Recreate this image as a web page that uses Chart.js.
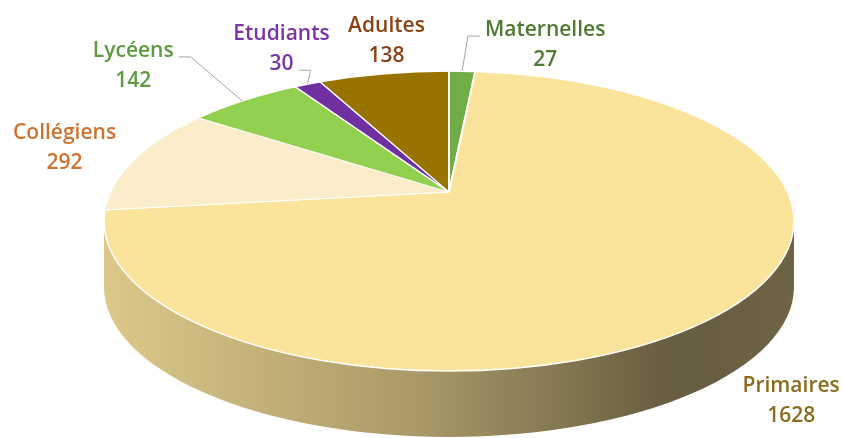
<!DOCTYPE html>
<html>
<head>
<meta charset="utf-8">
<script src="https://cdn.jsdelivr.net/npm/chart.js@4"></script>
<style>
  html, body { margin: 0; padding: 0; background: #fff; }
  #wrap { width: 842px; height: 438px; position: relative; }
</style>
</head>
<body>
<div id="wrap"><canvas id="pie"></canvas></div>
<script>
const categories = ["Maternelles", "Primaires", "Collégiens", "Lycéens", "Etudiants", "Adultes"];
const values = [27, 1628, 292, 142, 30, 138];
const sliceColors = ["#70ad47", "#fae39a", "#fbedc9", "#92d050", "#7030a0", "#997300"];
const labelColors = ["#4f7a32", "#8a6c1c", "#d0712e", "#5e9a3f", "#7a34a8", "#8a4314"];

// contour du dessus (ellipse), sommet décalé pour un effet de perspective
const PIE = { cx: 449, cy: 221, rx: 345, ry: 150, depth: 66, apexY: 192 };
const BACK = { rx: 350, ry: 121 };   // moitié arrière
const FRONT = { rx: 370, ry: 184 };  // moitié avant
// décalage des étiquettes par rapport au bord de la part
const labelShift = [[83, -26], [80, 16], [-71, -10], [-109, -35], [-26, -35], [4, -33]];
// ligne de repère : -1 = aucune, sinon ligne de texte d'attache
const leaderLine = [0, -1, -1, 0, 1, -1];
const FONT = "600 21px 'Open Sans'";
const LINE_H = 30;

function shade(hex, f) {
  const n = parseInt(hex.slice(1), 16);
  const r = Math.round(((n >> 16) & 255) * f);
  const g = Math.round(((n >> 8) & 255) * f);
  const b = Math.round((n & 255) * f);
  return `rgb(${r},${g},${b})`;
}

// angle de la part -> paramètre du point sur le contour elliptique
function rimParam(phi) {
  const half = Math.sin(phi) < 0 ? BACK : FRONT;
  const dx = half.rx * Math.cos(phi), dy = half.ry * Math.sin(phi);
  const oy = PIE.apexY - PIE.cy;
  const A = (dx / PIE.rx) ** 2 + (dy / PIE.ry) ** 2;
  const B = 2 * oy * dy / PIE.ry ** 2;
  const C = (oy / PIE.ry) ** 2 - 1;
  const s = (-B + Math.sqrt(B * B - 4 * A * C)) / (2 * A);
  const x = dx * s, y = oy + dy * s;
  let t = Math.atan2(y / PIE.ry, x / PIE.rx);
  while (t - phi > Math.PI) t -= 2 * Math.PI;
  while (phi - t > Math.PI) t += 2 * Math.PI;
  return t;
}

function rimPoint(t, withDepth) {
  const x = PIE.cx + PIE.rx * Math.cos(t);
  let y = PIE.cy + PIE.ry * Math.sin(t);
  if (withDepth && Math.sin(t) > 0) y += PIE.depth;
  return { x, y };
}

function clipHalf(ctx, W, H, back) {
  ctx.beginPath();
  if (back) ctx.rect(0, 0, W, PIE.apexY + 0.5);
  else ctx.rect(0, PIE.apexY - 0.5, W, H);
  ctx.clip();
  ctx.beginPath();
  ctx.ellipse(PIE.cx, PIE.cy, PIE.rx, PIE.ry, 0, 0, 2 * Math.PI);
  ctx.clip();
}

function applyHalf(ctx, arc, half) {
  const R = arc.outerRadius;
  ctx.translate(PIE.cx, PIE.apexY);
  ctx.scale(half.rx / R, half.ry / R);
  ctx.translate(-arc.x, -arc.y);
}

const pie3d = {
  id: "pie3d",
  beforeDatasetsDraw(chart) {
    const ctx = chart.ctx;
    const arcs = chart.getDatasetMeta(0).data;
    // flanc visible
    arcs.forEach((arc, i) => {
      const a = Math.max(rimParam(arc.startAngle), 0);
      const b = Math.min(rimParam(arc.endAngle), Math.PI);
      if (b <= a) return;
      const col = sliceColors[i];
      const grad = ctx.createLinearGradient(PIE.cx - PIE.rx, 0, PIE.cx + PIE.rx, 0);
      grad.addColorStop(0, shade(col, 0.88));
      grad.addColorStop(0.45, shade(col, 0.68));
      grad.addColorStop(0.82, shade(col, 0.41));
      grad.addColorStop(1, shade(col, 0.44));
      ctx.save();
      ctx.beginPath();
      ctx.ellipse(PIE.cx, PIE.cy, PIE.rx, PIE.ry, 0, a, b, false);
      const e = rimPoint(b, false);
      ctx.lineTo(e.x, e.y + PIE.depth);
      ctx.ellipse(PIE.cx, PIE.cy + PIE.depth, PIE.rx, PIE.ry, 0, b, a, true);
      ctx.closePath();
      ctx.fillStyle = grad;
      ctx.fill();
      ctx.restore();
    });
    // dessus : moitié arrière dessinée par Chart.js
    ctx.save();
    clipHalf(ctx, chart.width, chart.height, true);
    applyHalf(ctx, arcs[0], BACK);
  },
  afterDatasetsDraw(chart) {
    const ctx = chart.ctx;
    const arcs = chart.getDatasetMeta(0).data;
    ctx.restore();
    // moitié avant
    ctx.save();
    clipHalf(ctx, chart.width, chart.height, false);
    applyHalf(ctx, arcs[0], FRONT);
    arcs.forEach(arc => arc.draw(ctx));
    ctx.restore();
    ctx.save();
    ctx.beginPath();
    ctx.ellipse(PIE.cx, PIE.cy, PIE.rx, PIE.ry, 0, 0, 2 * Math.PI, false);
    ctx.strokeStyle = "#ffffff";
    ctx.lineWidth = 1.5;
    ctx.stroke();
    ctx.restore();
  },
  afterDraw(chart) {
    const ctx = chart.ctx;
    const arcs = chart.getDatasetMeta(0).data;
    ctx.save();
    ctx.font = FONT;
    ctx.textAlign = "center";
    ctx.textBaseline = "middle";
    arcs.forEach((arc, i) => {
      const t = rimParam((arc.startAngle + arc.endAngle) / 2);
      const rim = rimPoint(t, true);
      const lx = rim.x + labelShift[i][0];
      const ly = rim.y + labelShift[i][1];
      const lines = [categories[i], String(values[i])];
      const y0 = ly - LINE_H / 2;
      if (leaderLine[i] >= 0) {
        const k = leaderLine[i];
        const w = ctx.measureText(lines[k]).width;
        const ty = y0 + k * LINE_H + 6;
        const right = lx > rim.x;
        const tx = right ? lx - w / 2 - 5 : lx + w / 2 + 5;
        const ex = right ? tx - 12 : tx + 12;
        const top = rimPoint(t, false);
        ctx.beginPath();
        ctx.moveTo(top.x, top.y);
        ctx.lineTo(ex, ty);
        ctx.lineTo(tx, ty);
        ctx.strokeStyle = "#a6a6a6";
        ctx.lineWidth = 1;
        ctx.stroke();
      }
      ctx.fillStyle = labelColors[i];
      lines.forEach((s, k) => ctx.fillText(s, lx, y0 + k * LINE_H));
    });
    ctx.restore();
  }
};

new Chart(document.getElementById("pie"), {
  type: "pie",
  data: {
    labels: categories,
    datasets: [{
      data: values,
      backgroundColor: sliceColors,
      borderColor: "#ffffff",
      borderWidth: 1.2,
      clip: false
    }]
  },
  options: {
    responsive: true,
    maintainAspectRatio: false,
    animation: false,
    events: [],
    layout: { padding: 0 },
    plugins: {
      legend: { display: false },
      tooltip: { enabled: false },
      title: { display: false }
    }
  },
  plugins: [pie3d]
});
</script>
</body>
</html>
